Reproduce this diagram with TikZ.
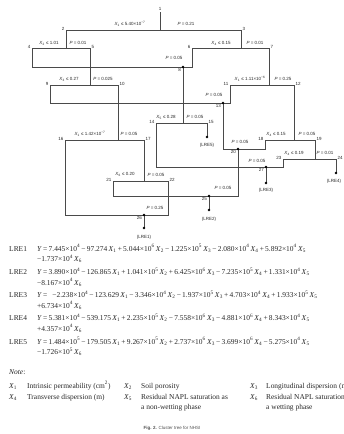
\documentclass[tikz,border=0pt]{standalone}
\usepackage{fontspec}
\setmainfont{Liberation Serif}
\newfontfamily\lsans{Liberation Sans}
\newcommand\Xs[1]{\textit{X}\textsubscript{#1}}
\newcommand\Te[1]{×10\textsuperscript{#1}}
\newcommand\Op[1]{\,#1\,}
\definecolor{ln}{HTML}{4A4A4A}
\definecolor{tx}{HTML}{262626}
\tikzset{
  br/.style={draw=ln, line width=0.6pt},
  lab/.style={font=\lsans\fontsize{4.5}{5}\selectfont, text=tx, inner sep=0pt},
  num/.style={font=\lsans\fontsize{4.5}{5}\selectfont, text=tx, inner sep=0pt},
  mdot/.style={circle, fill=black, inner sep=0pt, minimum size=2.8pt},
  eq/.style={font=\fontsize{7.45}{8}\selectfont, text=tx, inner sep=0pt, anchor=base west},
  figcap/.style={font=\lsans\fontsize{4.5}{5}\selectfont, text=tx!80, inner sep=0pt}
}
\begin{document}
\begin{tikzpicture}[x=1pt,y=-1pt]
\useasboundingbox (0,0) rectangle (344,434);
% ---- tree points
\coordinate (r) at (160,12);
\coordinate (n1) at (160,30);
\coordinate (n2) at (66,30);
\coordinate (n3) at (241,30);
\coordinate (n4) at (32,48);
\coordinate (n5) at (90,48);
\coordinate (n6) at (192,48);
\coordinate (n7) at (269,48);
\coordinate (n8) at (183,67);
\coordinate (n9) at (50,85);
\coordinate (n10) at (118,85);
\coordinate (n11) at (230,85);
\coordinate (n12) at (294,85);
\coordinate (n13) at (223,103);
\coordinate (n14) at (156,123);
\coordinate (n15) at (207,123);
\coordinate (n16) at (65,140);
\coordinate (n17) at (144,140);
\coordinate (n18) at (265,140);
\coordinate (n19) at (315,140);
\coordinate (n20) at (238,149);
\coordinate (n21) at (113,181);
\coordinate (n22) at (168,181);
\coordinate (n23) at (283,159);
\coordinate (n24) at (336,159);
\coordinate (n25) at (209,196);
\coordinate (n26) at (144,215);
\coordinate (n27) at (266,167);
\coordinate (l1) at (144,228);
\coordinate (l2) at (209,210);
\coordinate (l3) at (266,183);
\coordinate (l4) at (336,173);
\coordinate (l5) at (207,137);
% ---- splits
\draw[br] (r) -- (n1);
\draw[br] (n2) -- (n3);
\draw[br] (n2) -- (n2|-n4);  \draw[br] (n4) -- (n5);
\draw[br] (n3) -- (n3|-n6);  \draw[br] (n6) -- (n7);
\draw[br] (n5) -- (n5|-n9);  \draw[br] (n9) -- (n10);
\draw[br] (n7) -- (n7|-n11); \draw[br] (n11) -- (n12);
\draw[br] (n8) -- (n8|-n14); \draw[br] (n14) -- (n15);
\draw[br] (n10) -- (n10|-n16); \draw[br] (n16) -- (n17);
\draw[br] (n12) -- (n12|-n18); \draw[br] (n18) -- (n19);
\draw[br] (n19) -- (n19|-n23); \draw[br] (n23) -- (n24);
\draw[br] (n17) -- (n17|-n21); \draw[br] (n21) -- (n22);
% ---- merges
\draw[br] (n4) |- (n8);  \draw[br] (n6) |- (n8);
\draw[br] (n9) |- (n13); \draw[br] (n11) |- (n13);
\draw[br] (n13) |- (n20); \draw[br] (n18) |- (n20);
\draw[br] (n14) |- (n27); \draw[br] (n23) |- (n27);
\draw[br] (n20) |- (n25); \draw[br] (n21) |- (n25);
\draw[br] (n16) |- (n26); \draw[br] (n22) |- (n26);
% ---- leaves
\draw[br] (n15) -- (l5);
\draw[br] (n24) -- (l4);
\draw[br] (n27) -- (l3);
\draw[br] (n25) -- (l2);
\draw[br] (n26) -- (l1);
\foreach \p in {n8,n13,n20,n27,n25,n26,l1,l2,l3,l4,l5} \node[mdot] at (\p) {};
% ---- node numbers
\node[num,anchor=south] (t1) at (160,11) {1};
\node[num,anchor=east] (t2) at (64.5,28.5) {2};
\node[num,anchor=west] (t3) at (242.5,28.5) {3};
\node[num,anchor=east] (t4) at (30.5,47) {4};
\node[num,anchor=west] (t5) at (91.5,47) {5};
\node[num,anchor=east] (t6) at (190.5,47) {6};
\node[num,anchor=west] (t7) at (270.5,47) {7};
\node[num,anchor=north east] (t8) at (181,68.5) {8};
\node[num,anchor=east] (t9) at (48.5,84) {9};
\node[num,anchor=west] (t10) at (119.5,84) {10};
\node[num,anchor=east] (t11) at (228.5,84) {11};
\node[num,anchor=west] (t12) at (295.5,84) {12};
\node[num,anchor=north east] (t13) at (221,104.5) {13};
\node[num,anchor=east] (t14) at (154.5,122) {14};
\node[num,anchor=west] (t15) at (208.5,122) {15};
\node[num,anchor=east] (t16) at (63.5,139) {16};
\node[num,anchor=west] (t17) at (145.5,139) {17};
\node[num,anchor=east] (t18) at (263.5,139) {18};
\node[num,anchor=west] (t19) at (316.5,139) {19};
\node[num,anchor=north east] (t20) at (236,150.5) {20};
\node[num,anchor=east] (t21) at (111.5,180) {21};
\node[num,anchor=west] (t22) at (169.5,180) {22};
\node[num,anchor=east] (t23) at (281.5,158) {23};
\node[num,anchor=west] (t24) at (337.5,158) {24};
\node[num,anchor=north east] (t25) at (207,197.5) {25};
\node[num,anchor=north east] (t26) at (142,216.5) {26};
\node[num,anchor=north east] (t27) at (264,168.5) {27};
% ---- split labels
\node[lab] (a1) at (130,24) {\Xs{1} ≤ 5.40\Te{−7}};
\node[lab] (b1) at (186,24) {\textit{P} = 0.21};
\node[lab] (a2) at (49,43) {\Xs{2} ≤ 1.01};
\node[lab] (b2) at (78,43) {\textit{P} = 0.01};
\node[lab] (a3) at (221,43) {\Xs{4} ≤ 0.15};
\node[lab] (b3) at (255,43) {\textit{P} = 0.01};
\node[lab] (a5) at (69,79) {\Xs{3} ≤ 0.27};
\node[lab] (b5) at (103,79) {\textit{P} = 0.025};
\node[lab] (a7) at (250,79) {\Xs{1} ≤ 1.11\Te{−6}};
\node[lab] (b7) at (283,79) {\textit{P} = 0.25};
\node[lab] (a8) at (166,117) {\Xs{5} ≤ 0.28};
\node[lab] (b8) at (195,117) {\textit{P} = 0.05};
\node[lab] (a10) at (90,134) {\Xs{1} ≤ 1.42\Te{−7}};
\node[lab] (b10) at (129,134) {\textit{P} = 0.05};
\node[lab] (a12) at (276,134) {\Xs{4} ≤ 0.15};
\node[lab] (b12) at (307,134) {\textit{P} = 0.05};
\node[lab] (a17) at (125,174.5) {\Xs{6} ≤ 0.20};
\node[lab] (b17) at (156,174.5) {\textit{P} = 0.05};
\node[lab] (a19) at (294,153) {\Xs{4} ≤ 0.19};
\node[lab] (b19) at (325,153) {\textit{P} = 0.01};
% ---- merge labels
\node[lab] (m8) at (174,58) {\textit{P} = 0.05};
\node[lab] (m13) at (214,95) {\textit{P} = 0.05};
\node[lab] (m20) at (240,142) {\textit{P} = 0.05};
\node[lab] (m27) at (257,161) {\textit{P} = 0.05};
\node[lab] (m25) at (223,188) {\textit{P} = 0.05};
\node[lab] (m26) at (155,207.5) {\textit{P} = 0.25};
% ---- leaf labels
\node[lab] (e5) at (207,145) {(LRE5)};
\node[lab] (e4) at (334,181) {(LRE4)};
\node[lab] (e3) at (266,190) {(LRE3)};
\node[lab] (e2) at (209,219) {(LRE2)};
\node[lab] (e1) at (144,237) {(LRE1)};
% ---- equations
\node[eq] (q1n) at (9,251) {LRE1};
\node[eq] (q1a) at (37,251) {\textit{Y}\Op{=}7.445\Te{4}\Op{−}97.274\,\Xs{1}\Op{+}5.044\Te{6}\,\Xs{2}\Op{−}1.225\Te{5}\,\Xs{3}\Op{−}2.080\Te{4}\,\Xs{4}\Op{+}5.892\Te{4}\,\Xs{5}};
\node[eq] (q1b) at (37,261.5) {−1.737\Te{4}\,\Xs{6}};
\node[eq] (q2n) at (9,274.5) {LRE2};
\node[eq] (q2a) at (37,274.5) {\textit{Y}\Op{=}3.890\Te{4}\Op{−}126.865\,\Xs{1}\Op{+}1.041\Te{5}\,\Xs{2}\Op{+}6.425\Te{6}\,\Xs{3}\Op{−}7.235\Te{5}\,\Xs{4}\Op{+}1.331\Te{4}\,\Xs{5}};
\node[eq] (q2b) at (37,285) {−8.167\Te{4}\,\Xs{6}};
\node[eq] (q3n) at (9,297.5) {LRE3};
\node[eq] (q3a) at (37,297.5) {\textit{Y}\Op{=}\ \ −2.238\Te{4}\Op{−}123.629\,\Xs{1}\Op{−}3.346\Te{4}\,\Xs{2}\Op{−}1.937\Te{5}\,\Xs{3}\Op{+}4.703\Te{4}\,\Xs{4}\Op{+}1.933\Te{5}\,\Xs{5}};
\node[eq] (q3b) at (37,308) {+6.734\Te{4}\,\Xs{6}};
\node[eq] (q4n) at (9,320.5) {LRE4};
\node[eq] (q4a) at (37,320.5) {\textit{Y}\Op{=}5.381\Te{4}\Op{−}539.175\,\Xs{1}\Op{+}2.235\Te{5}\,\Xs{2}\Op{−}7.558\Te{6}\,\Xs{3}\Op{−}4.881\Te{6}\,\Xs{4}\Op{+}8.343\Te{4}\,\Xs{5}};
\node[eq] (q4b) at (37,331) {+4.357\Te{4}\,\Xs{6}};
\node[eq] (q5n) at (9,344) {LRE5};
\node[eq] (q5a) at (37,344) {\textit{Y}\Op{=}1.484\Te{5}\Op{−}179.505\,\Xs{1}\Op{+}9.267\Te{5}\,\Xs{2}\Op{+}2.737\Te{6}\,\Xs{3}\Op{−}3.699\Te{6}\,\Xs{4}\Op{−}5.275\Te{4}\,\Xs{5}};
\node[eq] (q5b) at (37,354.5) {−1.726\Te{5}\,\Xs{6}};
% ---- note
\node[eq] (nt) at (9,374) {\textit{Note}:};
\node[eq] (v1) at (9,388) {\Xs{1}};
\node[eq] (d1) at (27,388) {Intrinsic permeability (cm\textsuperscript{2})};
\node[eq] (v2) at (124,388) {\Xs{2}};
\node[eq] (d2) at (141,388) {Soil porosity};
\node[eq] (v3) at (250,388) {\Xs{3}};
\node[eq] (d3) at (266,388) {Longitudinal dispersion (m)};
\node[eq] (v4) at (9,399) {\Xs{4}};
\node[eq] (d4) at (27,399) {Transverse dispersion (m)};
\node[eq] (v5) at (124,399) {\Xs{5}};
\node[eq] (d5) at (141,399) {Residual NAPL saturation as};
\node[eq] (d5b) at (141,409) {a non-wetting phase};
\node[eq] (v6) at (250,399) {\Xs{6}};
\node[eq] (d6) at (266,399) {Residual NAPL saturation as};
\node[eq] (d6b) at (266,409) {a wetting phase};
% ---- caption
\node[figcap] (fc) at (172,428) {\textbf{Fig. 2.} Cluster tree for NHSI};
\end{tikzpicture}
\end{document}
